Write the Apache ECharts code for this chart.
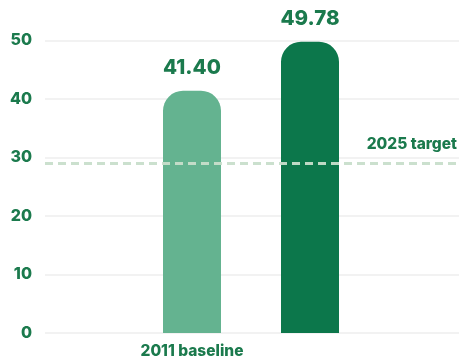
<!DOCTYPE html>
<html>
<head>
<meta charset="utf-8">
<script src="https://cdn.jsdelivr.net/npm/echarts@6/dist/echarts.min.js"></script>
<style>
  html, body { margin: 0; padding: 0; background: #ffffff; }
  #chart { width: 459px; height: 361px; }
</style>
</head>
<body>
<div id="chart"></div>
<script>
// Chart data
const categories = ['2011 baseline', '2024'];
const values = [41.40, 49.78];
const barColors = ['#64b390', '#0c774b'];
const targetValue = [29];
const targetLabel = ['2025 target'];
const yTicks = { min: 0, max: 50, interval: 10 };

const font = 'Inter, "Open Sans", sans-serif';
const labelGreen = '#1b7a4d';

const chart = echarts.init(document.getElementById('chart'), null, { renderer: 'canvas' });

const option = {
  animation: false,
  grid: [
    // full-width grid carrying the value axis, split lines and the target line
    { left: 45, right: 0, top: 40.5, bottom: 28 },
    // narrower grid holding the two bars
    { left: 133, right: 90, top: 40.5, bottom: 28 }
  ],
  xAxis: [
    { type: 'category', gridIndex: 0, data: categories, show: false },
    {
      type: 'category', gridIndex: 1, data: categories,
      axisLine: { show: false }, axisTick: { show: false },
      axisLabel: {
        margin: 10, color: labelGreen, fontFamily: font,
        fontWeight: 800, fontSize: 15.5
      }
    }
  ],
  yAxis: [
    {
      type: 'value', gridIndex: 0,
      min: yTicks.min, max: yTicks.max, interval: yTicks.interval,
      axisLine: { show: false }, axisTick: { show: false },
      axisLabel: {
        margin: 13, color: labelGreen, fontFamily: font,
        fontWeight: 800, fontSize: 16
      },
      splitLine: { lineStyle: { color: '#eeeeee', width: 1.5 } }
    },
    {
      type: 'value', gridIndex: 1,
      min: yTicks.min, max: yTicks.max, interval: yTicks.interval,
      show: false, splitLine: { show: false }
    }
  ],
  series: [
    {
      type: 'bar',
      xAxisIndex: 1, yAxisIndex: 1,
      barWidth: 58,
      z: 2,
      data: values.map((v, i) => ({
        value: v,
        itemStyle: { color: barColors[i], borderRadius: [20, 20, 0, 0] }
      })),
      label: {
        show: true, position: 'top', distance: 12,
        color: labelGreen, fontFamily: font, fontWeight: 800, fontSize: 20.5,
        formatter: p => p.value.toFixed(2)
      }
    },
    {
      type: 'line',
      xAxisIndex: 0, yAxisIndex: 0,
      data: [],
      z: 5,
      markLine: {
        symbol: 'none',
        silent: true,
        lineStyle: { type: [8, 5], color: 'rgba(200, 222, 203, 0.95)', width: 3 },
        label: {
          show: true, position: 'insideEndTop', distance: [2, 11],
          formatter: targetLabel[0],
          color: labelGreen, fontFamily: font, fontWeight: 800, fontSize: 15.5
        },
        data: [{ yAxis: targetValue[0] }]
      }
    }
  ]
};

chart.setOption(option);
</script>
</body>
</html>
